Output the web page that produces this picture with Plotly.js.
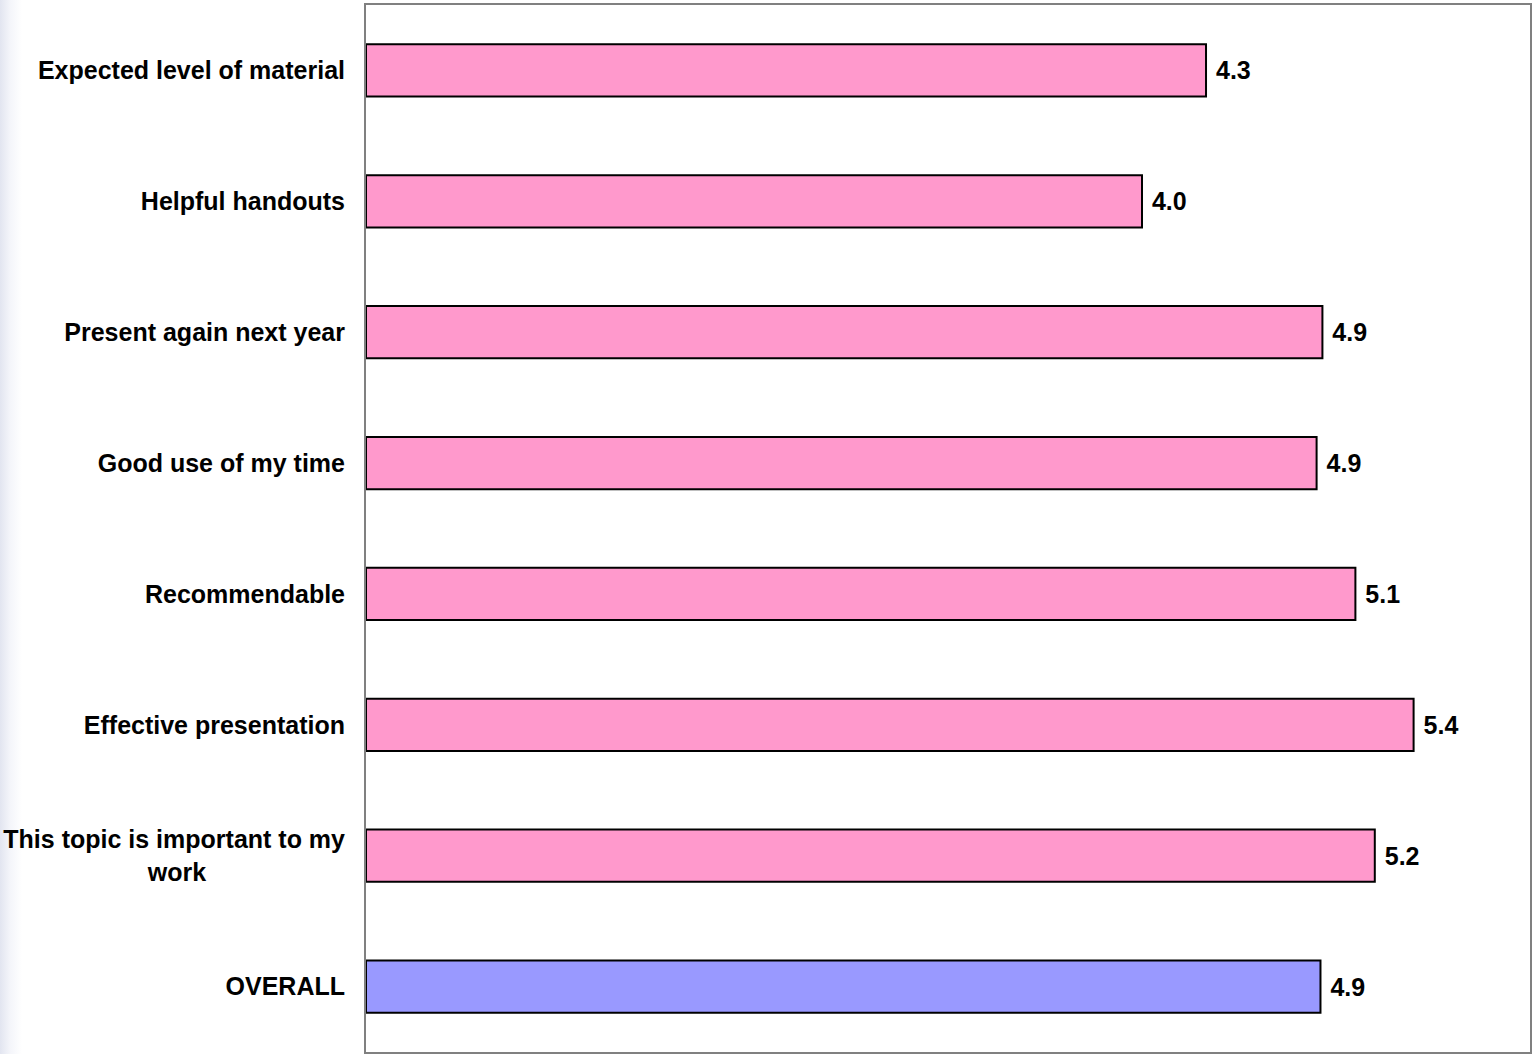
<!DOCTYPE html>
<html>
<head>
<meta charset="utf-8">
<script src="https://cdn.plot.ly/plotly-3.0.1.min.js"></script>
<style>
  html, body { margin: 0; padding: 0; }
  body { width: 1538px; height: 1054px; background: linear-gradient(to right, #e2e5f0 0px, #f4f5fa 10px, #ffffff 22px); }
  #chart { width: 1538px; height: 1054px; }
</style>
</head>
<body>
<div id="chart"></div>
<script>
const categories = [
  "Expected level of material",
  "Helpful handouts",
  "Present again next year",
  "Good use of my time",
  "Recommendable",
  "Effective presentation",
  "This topic is important to my<br>work" + "\u00a0".repeat(20),
  "OVERALL"
];
const scores = [4.33, 4.0, 4.93, 4.9, 5.1, 5.4, 5.2, 4.92];
const barColors = ["#FF99CC", "#FF99CC", "#FF99CC", "#FF99CC", "#FF99CC", "#FF99CC", "#FF99CC", "#9999FF"];

const fontFam = '"Liberation Sans", Arial, sans-serif';

const trace = {
  type: 'bar',
  orientation: 'h',
  y: categories,
  x: scores,
  marker: { color: barColors, line: { color: '#000000', width: 2 } },
  text: scores.map(v => "\u00a0" + v.toFixed(1)),
  textposition: 'outside',
  textfont: { family: fontFam, size: 25, color: '#000000', weight: 'bold' },
  cliponaxis: false,
  hoverinfo: 'none'
};

const layout = {
  width: 1538,
  height: 1054,
  margin: { l: 366, r: 8, t: 5, b: 2, pad: 0 },
  paper_bgcolor: 'rgba(0,0,0,0)',
  plot_bgcolor: '#ffffff',
  showlegend: false,
  bargap: 0.6,
  font: { family: fontFam, size: 25, color: '#000000', weight: 'bold' },
  xaxis: {
    range: [0, 6],
    showgrid: false,
    zeroline: false,
    showticklabels: false,
    ticks: '',
    showline: true,
    mirror: true,
    linecolor: '#808080',
    linewidth: 2,
    fixedrange: true
  },
  yaxis: {
    autorange: 'reversed',
    showgrid: false,
    zeroline: false,
    ticks: '',
    ticklabelstandoff: 14,
    showline: true,
    mirror: true,
    linecolor: '#808080',
    linewidth: 2,
    tickfont: { family: fontFam, size: 25, color: '#000000', weight: 'bold' },
    fixedrange: true
  }
};

Plotly.newPlot('chart', [trace], layout, { displayModeBar: false, staticPlot: true });
</script>
</body>
</html>
